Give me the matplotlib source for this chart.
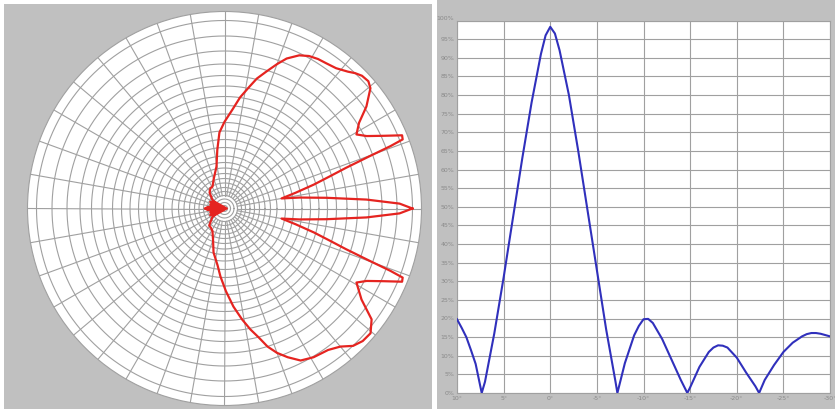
import numpy as np
import matplotlib
matplotlib.use("Agg")
import matplotlib.pyplot as plt
from matplotlib.patches import Rectangle

# --- polar pattern (angle in degrees, radius as fraction of the plot radius) ---
polar_angle = [
    0, 1.6, 3.6, 6, 8.3, 10, 12.5, 15, 17, 18.5, 19.8, 20.6, 21.2, 22.4, 24.5, 27, 29.3,
    32.5, 35.7, 39.5, 41.5, 44, 46, 48, 51.5, 55, 58, 61, 64, 67.5, 70, 73, 76, 78.4,
    82, 85.4, 90, 93.8, 97, 100.8, 110, 118.6, 125, 133,
    145, 150, 155, 160, 165, 170, 175, 180, 185, 190, 195, 200, 205, 210, 215,
    228, 235, 242, 250, 256, 263, 266.6, 271, 275.2, 279, 282.1, 285, 287.3, 290, 293,
    296.6, 300.9, 304, 306.2, 310, 313.1, 316.2, 319.5, 323, 326.4, 330.7, 333, 335.5,
    337.6, 338.8, 339.4, 340.2, 341.5, 343, 345, 347.5, 350, 351.7, 354, 356.4, 358.4, 360,
]
polar_radius = [
    0.954, 0.889, 0.722, 0.52, 0.385, 0.294, 0.37, 0.47, 0.56, 0.65, 0.78, 0.90, 0.97, 0.975, 0.89, 0.81, 0.768,
    0.81, 0.887, 0.96, 0.975, 0.97, 0.955, 0.935, 0.91, 0.90, 0.895, 0.885, 0.865, 0.824, 0.78, 0.727, 0.68, 0.632,
    0.57, 0.504, 0.44, 0.387, 0.30, 0.217, 0.16, 0.127, 0.125, 0.111,
    0.075, 0.05, 0.08, 0.045, 0.075, 0.05, 0.085, 0.10, 0.085, 0.05, 0.075, 0.045, 0.08, 0.05, 0.075,
    0.116, 0.12, 0.13, 0.17, 0.23, 0.29, 0.346, 0.42, 0.50, 0.57, 0.628, 0.68, 0.734, 0.78, 0.82,
    0.863, 0.88, 0.885, 0.89, 0.915, 0.955, 0.972, 0.975, 0.935, 0.835, 0.768, 0.81, 0.89,
    0.975, 0.97, 0.90, 0.78, 0.65, 0.56, 0.47, 0.37, 0.294, 0.385, 0.52, 0.722, 0.889, 0.954,
]

# --- rectangular cut (angle in degrees, level in percent) ---
cut_angle = [10, 9.5, 9, 8.5, 8, 7.35, 7, 6, 5, 4, 3, 2, 1, 0.5, 0, -0.5, -1, -2, -3, -4, -5, -6, -7, -7.2,
             -8, -9, -9.5, -10, -10.5, -11, -12, -13, -14, -14.7,
             -15, -16, -17, -17.5, -18, -18.5, -19, -20, -21, -22, -22.4,
             -23, -24, -25, -26, -27, -27.5, -28, -28.5, -29, -30]
cut_level = [19.8, 17.5, 15, 11.5, 7.8, 0, 3, 16, 31, 47, 63, 78, 91, 96, 98.3, 96.5, 92, 80, 65, 49, 33, 17, 3, 0,
             8, 15.5, 18, 19.8, 19.9, 18.8, 14.5, 9, 3.5, 0,
             1.5, 7, 11, 12.2, 12.8, 12.7, 12.2, 9.5, 5.5, 1.8, 0,
             3.5, 7.5, 11, 13.5, 15.2, 15.8, 16.1, 16.1, 15.9, 15.2]

x_ticks = [10, 5, 0, -5, -10, -15, -20, -25, -30]
y_ticks = list(range(0, 101, 5))

# ring radii of the polar grid (pixels out of a 197 px radius)
ring_px = [3, 6, 9.5, 13, 17, 21, 25.5, 30, 35, 40.5, 46, 52.5, 61, 69, 77.5, 86, 94.5,
           103, 112, 122.5, 133, 144.5, 157.5, 172.5, 188]

W, H = 835, 409
GRAY = "#c0c0c0"
GRID = "#a0a0a0"
RED = "#e52420"

fig = plt.figure(figsize=(W / 100, H / 100), dpi=100, facecolor="white")

# panel backgrounds (kept behind the axes)
fig.patches.append(Rectangle((4 / W, 0), 428 / W, 405 / H, transform=fig.transFigure,
                             facecolor=GRAY, edgecolor="none", zorder=-10))
fig.patches.append(Rectangle((437 / W, 0), 398 / W, 1, transform=fig.transFigure,
                             facecolor=GRAY, edgecolor="none", zorder=-10))

# --- left: polar pattern ---
cx, cy, R = 224.5, 208.5, 197
ax1 = fig.add_axes([(cx - R) / W, (H - cy - R) / H, 2 * R / W, 2 * R / H], projection="polar")
ax1.set_facecolor("white")
ax1.set_ylim(0, 1)
ax1.grid(False)
ax1.set_xticks([])
ax1.set_yticks([])
ax1.spines["polar"].set_color(GRID)
ax1.spines["polar"].set_linewidth(0.8)

circle_t = np.linspace(0, 2 * np.pi, 361)
for rp in ring_px:
    ax1.plot(circle_t, np.full_like(circle_t, rp / R), color=GRID, lw=0.8, zorder=1)
for a in range(0, 360, 10):
    t = np.deg2rad(a)
    ax1.plot([t, t], [13 / R, 1], color=GRID, lw=0.8, zorder=1)

theta = np.deg2rad(polar_angle)
radius = np.array(polar_radius)
ax1.plot(theta, radius, color=RED, lw=1.6, zorder=3)

# the noisy back lobe reads as a solid blob near the centre
back = (np.array(polar_angle) >= 145) & (np.array(polar_angle) <= 215)
ax1.fill(np.r_[theta[back], 0], np.r_[radius[back], 0.015], color=RED, lw=1, zorder=3)

# --- right: rectangular cut ---
ax2 = fig.add_axes([457 / W, (H - 393) / H, 373 / W, 372.5 / H])
ax2.set_facecolor("white")
ax2.plot(cut_angle, cut_level, color="#3030bc", lw=1.5, zorder=3)
ax2.set_xlim(10, -30)
ax2.set_ylim(0, 100)
ax2.set_xticks(x_ticks)
ax2.set_xticklabels([f"{t}°" for t in x_ticks])
ax2.set_yticks(y_ticks)
ax2.set_yticklabels([f"{t}%" for t in y_ticks])
ax2.grid(True, color=GRID, lw=0.8)
ax2.set_axisbelow(True)
ax2.tick_params(length=0, labelsize=4.5, labelcolor="#8a8a8a", pad=2)
ax2.get_yticklabels()[-1].set_va("bottom")
for s in ax2.spines.values():
    s.set_color(GRID)
    s.set_linewidth(0.8)

fig.savefig("out.png", dpi=100, facecolor="white")
